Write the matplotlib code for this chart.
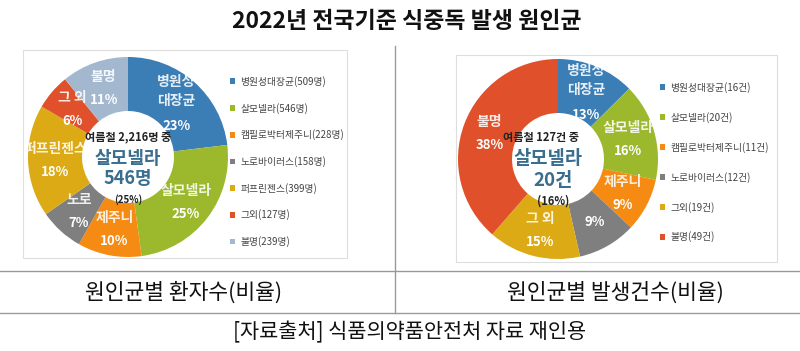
import numpy as np
import matplotlib
matplotlib.use("Agg")
import matplotlib.pyplot as plt
from matplotlib.patches import Rectangle

plt.rcParams['font.family'] = ['Noto Sans CJK KR', 'DejaVu Sans']

# ---------------- data ----------------
title = "2022년 전국기준 식중독 발생 원인균"

left_names = ["병원성대장균", "살모넬라", "캠필로박터제주니", "노로바이러스", "퍼프린젠스", "그외", "불명"]
left_counts = [509, 546, 228, 158, 399, 127, 239]
left_wedge_labels = ["병원성\n대장균", "살모넬라", "제주니", "노로", "퍼프린젠스", "그 외", "불명"]
left_pct = ["23%", "25%", "10%", "7%", "18%", "6%", "11%"]
left_total = 2216

right_names = ["병원성대장균", "살모넬라", "캠필로박터제주니", "노로바이러스", "그외", "불명"]
right_counts = [16, 20, 11, 12, 19, 49]
right_wedge_labels = ["병원성\n대장균", "살모넬라", "제주니", "", "그 외", "불명"]
right_pct = ["13%", "16%", "9%", "9%", "15%", "38%"]
right_total = 127

left_subtitle = "원인균별 환자수(비율)"
right_subtitle = "원인균별 발생건수(비율)"
source = "[자료출처] 식품의약품안전처 자료 재인용"

# ---------------- styles ----------------
C_BLUE = "#3b7db5"
C_GREEN = "#9cb92e"
C_ORANGE = "#f58b12"
C_GRAY = "#7f7f7f"
C_GOLD = "#dcaa14"
C_RED = "#e0512b"
C_LBLUE = "#a3b8cf"
left_colors = [C_BLUE, C_GREEN, C_ORANGE, C_GRAY, C_GOLD, C_RED, C_LBLUE]
right_colors = [C_BLUE, C_GREEN, C_ORANGE, C_GRAY, C_GOLD, C_RED]
CENTER_COLOR = "#3a6e8f"

W, H = 800, 351
fig = plt.figure(figsize=(W / 100, H / 100), dpi=100)
fig.patch.set_facecolor("white")

# overlay axes in pixel coordinates
ax0 = fig.add_axes([0, 0, 1, 1])
ax0.set_xlim(0, W)
ax0.set_ylim(H, 0)
ax0.axis("off")

ax0.text(407, 22, title, ha="center", va="center", fontsize=16.5, fontweight="bold", color="#111111")
# frame lines
ax0.plot([0, W], [271, 271], color="#9a9a9a", lw=1.0)
ax0.plot([0, W], [313, 313], color="#9a9a9a", lw=1.0)
ax0.plot([395, 395], [46, 313], color="#9a9a9a", lw=1.0)
# chart boxes
ax0.add_patch(Rectangle((23, 50), 324, 208, fill=False, ec="#dedede", lw=0.8))
ax0.add_patch(Rectangle((456, 55), 321, 207, fill=False, ec="#dedede", lw=0.8))

ax0.text(184, 293, left_subtitle, ha="center", va="center", fontsize=15.5, color="#111111")
ax0.text(615, 293, right_subtitle, ha="center", va="center", fontsize=15.5, color="#111111")
ax0.text(410, 332, source, ha="center", va="center", fontsize=15, color="#111111")


def px_rect(cx, cy, r):
    return [(cx - r) / W, (H - cy - r) / H, 2 * r / W, 2 * r / H]


def donut(rect, counts, colors, wlabels, pcts, label_r):
    ax = fig.add_axes(rect)
    ax.set_facecolor("none")
    wedges, _ = ax.pie(counts, colors=colors, startangle=90, counterclock=False,
                       wedgeprops=dict(width=0.54, edgecolor="none"))
    ax.set_xlim(-1, 1)
    ax.set_ylim(-1, 1)
    ax.set_aspect("equal")
    for w, lab, p in zip(wedges, wlabels, pcts):
        mid = np.deg2rad((w.theta1 + w.theta2) / 2)
        x, y = label_r * np.cos(mid), label_r * np.sin(mid)
        if lab:
            n = lab.count("\n") + 1
            ax.text(x, y + 0.11, lab, ha="center", va="center", fontsize=10, fontweight="bold",
                    color=(1, 1, 1, 0.88), linespacing=1.45)
            ax.text(x, y + 0.11 - 0.115 * (n + 1), p, ha="center", va="center", fontsize=9.5,
                    fontweight="bold", color="white")
        else:
            ax.text(x, y, p, ha="center", va="center", fontsize=9.5, fontweight="bold", color="white")
    return ax, wedges


axL, wL = donut(px_rect(128, 157, 100), left_counts, left_colors, left_wedge_labels, left_pct, 0.73)
axL.text(0, 0.20, f"여름철 {left_total:,}명 중", ha="center", va="center", fontsize=8, fontweight="bold", color="#222222")
axL.text(0, -0.01, "살모넬라", ha="center", va="center", fontsize=13, color=CENTER_COLOR, fontweight="bold")
axL.text(0, -0.22, f"{left_counts[1]}명", ha="center", va="center", fontsize=13, color=CENTER_COLOR, fontweight="bold")
axL.text(0, -0.43, "(25%)", ha="center", va="center", fontsize=7, fontweight="bold", color="#222222")

axR, wR = donut(px_rect(558, 159, 100), right_counts, right_colors, right_wedge_labels, right_pct, 0.73)
axR.text(-0.17, 0.22, f"여름철 {right_total}건 중", ha="center", va="center", fontsize=8, fontweight="bold", color="#222222")
axR.text(-0.1, 0.01, "살모넬라", ha="center", va="center", fontsize=13.5, color=CENTER_COLOR, fontweight="bold")
axR.text(-0.05, -0.22, f"{right_counts[1]}건", ha="center", va="center", fontsize=13.5, color=CENTER_COLOR, fontweight="bold")
axR.text(-0.05, -0.42, "(16%)", ha="center", va="center", fontsize=8, fontweight="bold", color="#222222")

# legends
leg_kw = dict(frameon=False, handlelength=0.55, handleheight=0.55, handletextpad=0.5,
              borderaxespad=0, borderpad=0, fontsize=7, labelcolor="#444444")
legL = fig.legend(wL, [f"{n}({c}명)" for n, c in zip(left_names, left_counts)],
                  loc="upper left", bbox_to_anchor=(230 / W, 1 - 76 / H), labelspacing=1.62, **leg_kw)
legR = fig.legend(wR, [f"{n}({c}건)" for n, c in zip(right_names, right_counts)],
                  loc="upper left", bbox_to_anchor=(660 / W, 1 - 82 / H), labelspacing=1.95, **leg_kw)

fig.savefig("out.png", dpi=100, facecolor="white")
